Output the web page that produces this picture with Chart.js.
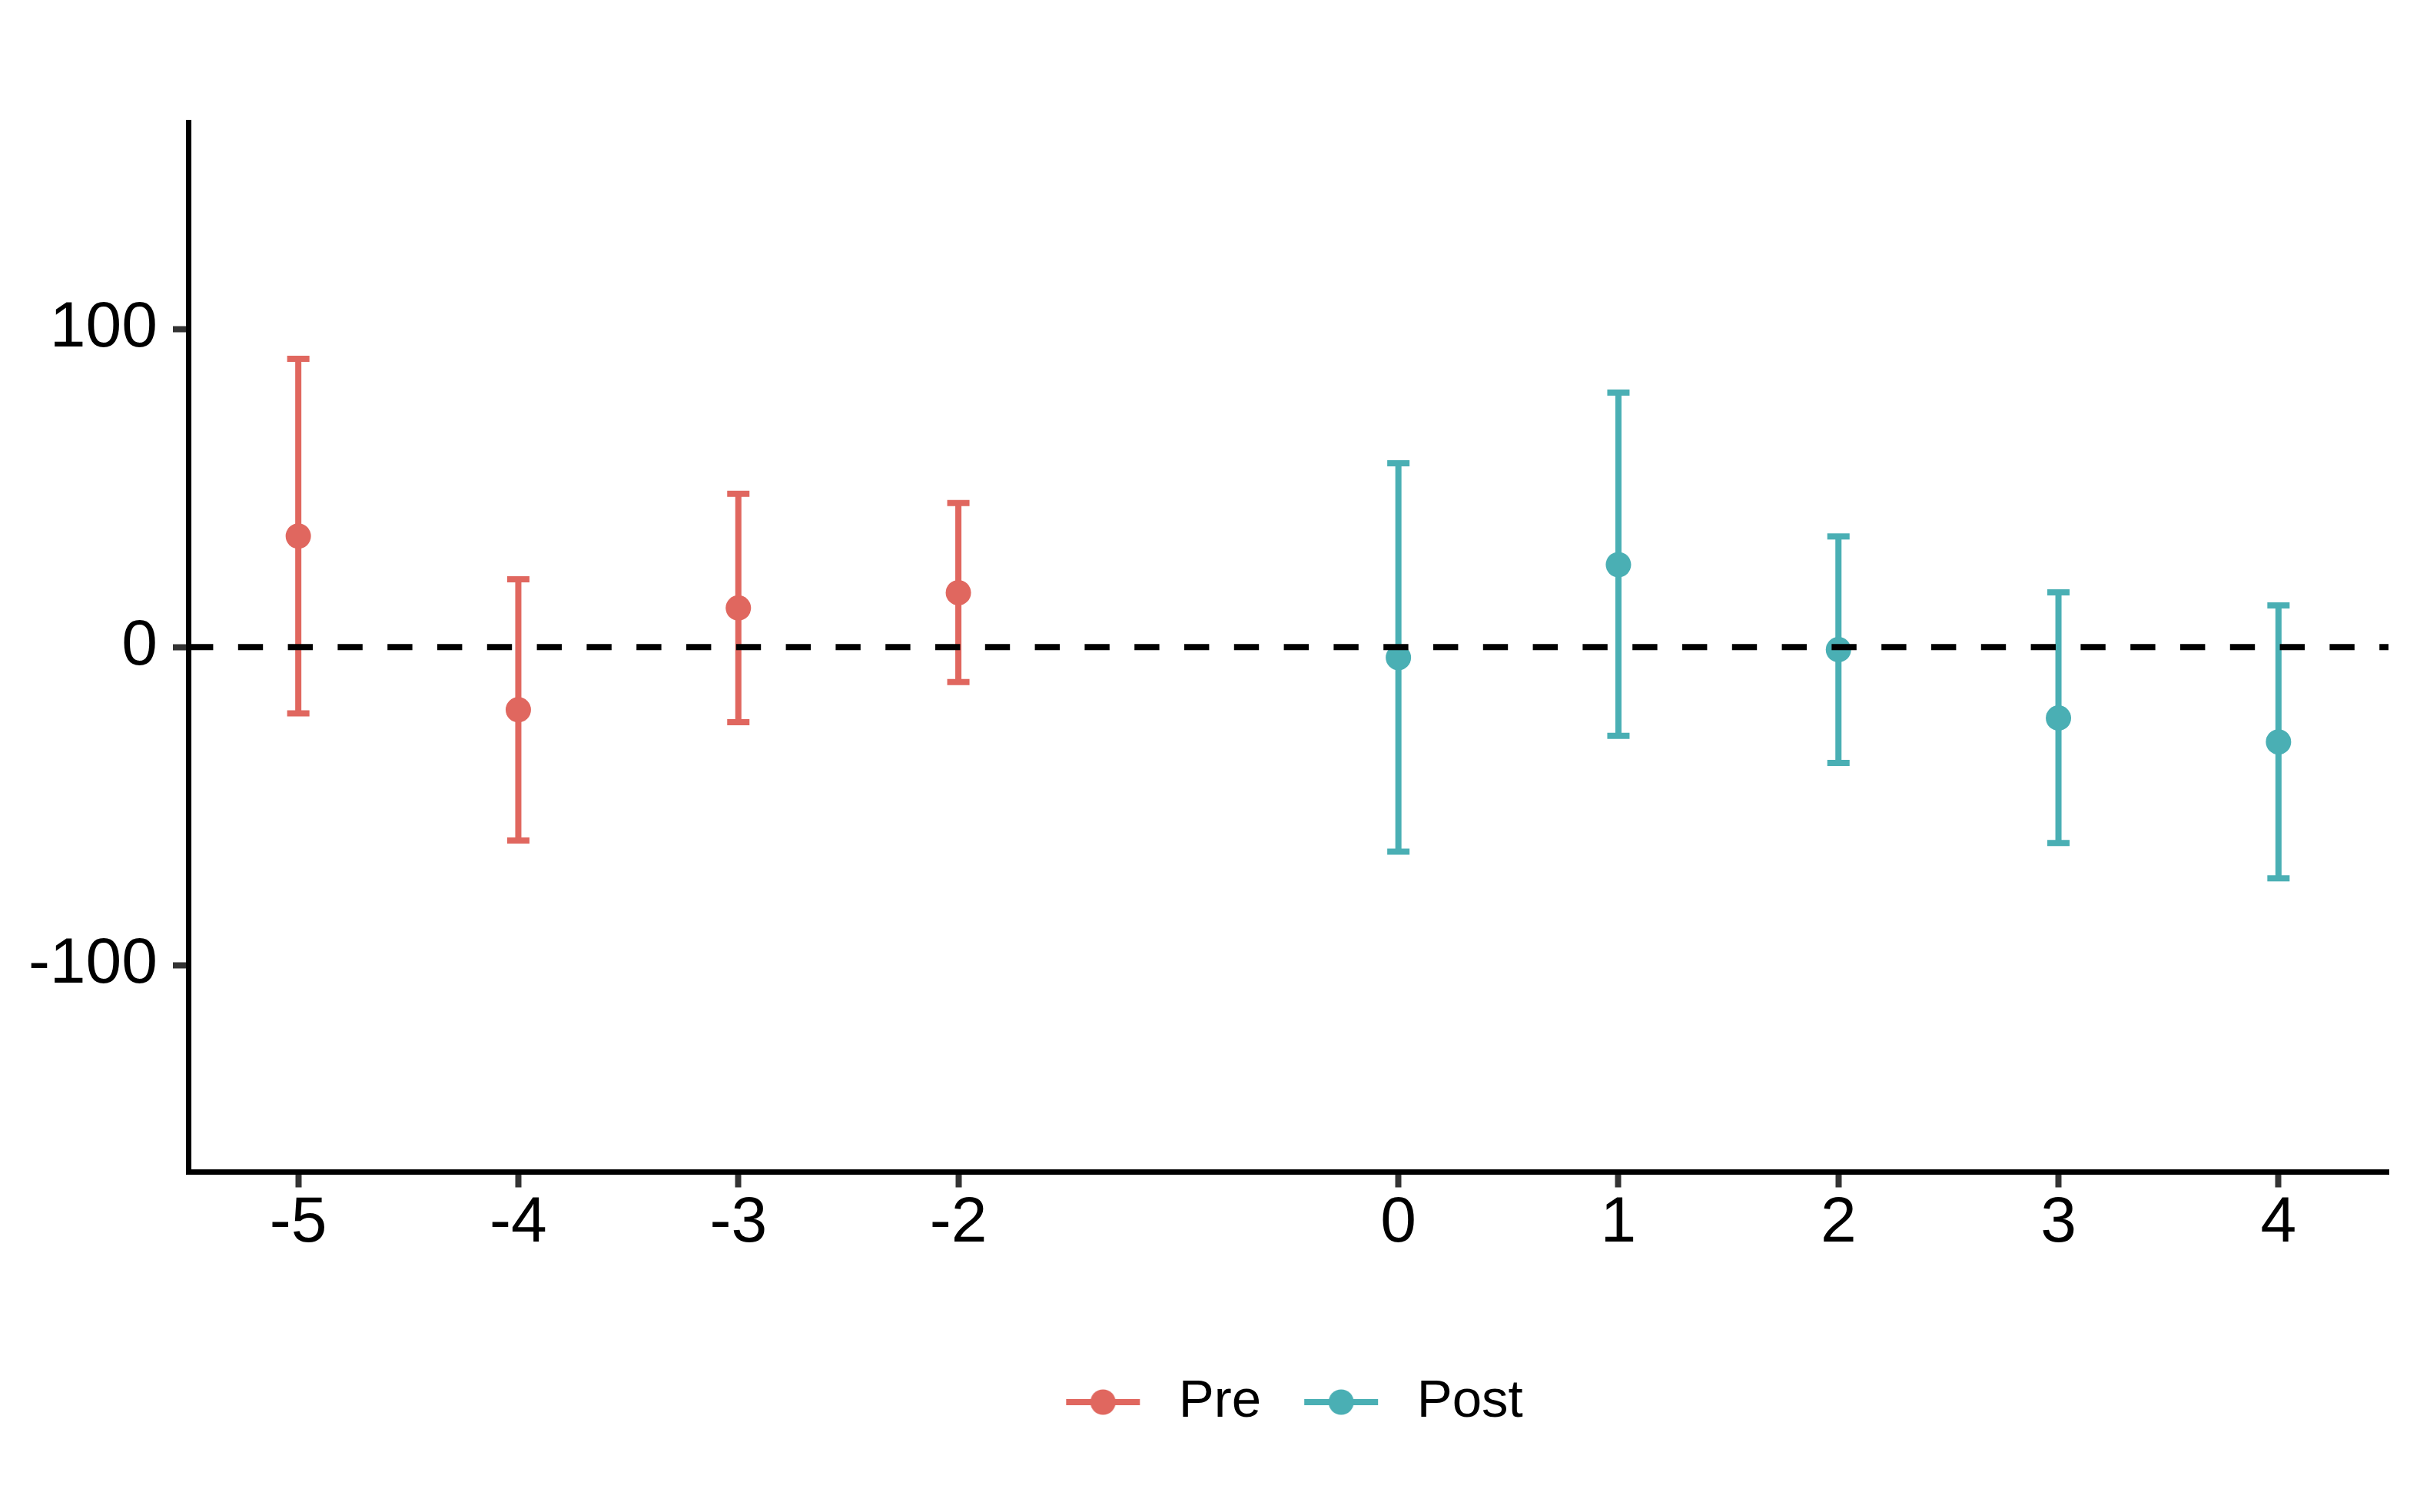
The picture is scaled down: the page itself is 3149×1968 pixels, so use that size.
<!DOCTYPE html>
<html>
<head>
<meta charset="utf-8">
<script src="https://cdn.jsdelivr.net/npm/chart.js@4.4.1/dist/chart.umd.min.js"></script>
<style>
  html, body { margin: 0; padding: 0; background: #fff; }
  #wrap { width: 3149px; height: 1968px; position: relative; }
</style>
</head>
<body>
<div id="wrap"><canvas id="myChart"></canvas></div>
<script>
const preX = [-5, -4, -3, -2];
const preEst = [34.9, -19.7, 12.3, 17.1];
const preLo = [-20.8, -60.8, -23.6, -11.0];
const preHi = [90.6, 21.3, 48.2, 45.3];

const postX = [0, 1, 2, 3, 4];
const postEst = [-3.3, 25.9, -0.8, -22.3, -29.8];
const postLo = [-64.3, -27.9, -36.4, -61.6, -72.7];
const postHi = [57.8, 80.0, 34.8, 17.2, 13.1];

const xTicks = [-5, -4, -3, -2, 0, 1, 2, 3, 4];
const yTicks = [-100, 0, 100];

const preColor = '#E0675F';
const postColor = '#4AAFB4';
const font = '"Liberation Sans", Arial, sans-serif';

// legend key: line with a dot, like ggplot
function legendKey(color) {
    const c = document.createElement('canvas');
    c.width = 128;
    c.height = 34;
    const g = c.getContext('2d');
    g.strokeStyle = color;
    g.lineWidth = 8;
    g.beginPath();
    g.moveTo(16, 17);
    g.lineTo(112, 17);
    g.stroke();
    g.fillStyle = color;
    g.beginPath();
    g.arc(64, 17, 16.5, 0, Math.PI * 2);
    g.fill();
    return c;
}

const errorBars = {
    id: 'errorBars',
    beforeDatasetsDraw(chart) {
        const { ctx, scales: { x, y } } = chart;
        ctx.save();
        ctx.lineWidth = 8;
        ctx.lineCap = 'butt';
        chart.data.datasets.forEach(ds => {
            ctx.strokeStyle = ds.backgroundColor;
            ds.data.forEach(p => {
                const px = x.getPixelForValue(p.x);
                const top = y.getPixelForValue(p.hi);
                const bot = y.getPixelForValue(p.lo);
                ctx.beginPath();
                ctx.moveTo(px, top);
                ctx.lineTo(px, bot);
                ctx.moveTo(px - 14.5, top);
                ctx.lineTo(px + 14.5, top);
                ctx.moveTo(px - 14.5, bot);
                ctx.lineTo(px + 14.5, bot);
                ctx.stroke();
            });
        });
        ctx.restore();
    },
    afterDatasetsDraw(chart) {
        const { ctx, chartArea, scales: { y } } = chart;
        const py = y.getPixelForValue(0);
        ctx.save();
        ctx.strokeStyle = '#000';
        ctx.lineWidth = 8;
        ctx.setLineDash([32.4, 32.4]);
        ctx.beginPath();
        ctx.moveTo(chartArea.left, py);
        ctx.lineTo(chartArea.right, py);
        ctx.stroke();
        ctx.restore();
    }
};

function points(xs, est, lo, hi) {
    return xs.map((v, i) => ({ x: v, y: est[i], lo: lo[i], hi: hi[i] }));
}

const ctx = document.getElementById('myChart').getContext('2d');
const myChart = new Chart(ctx, {
    type: 'scatter',
    data: {
        datasets: [{
            label: 'Pre',
            data: points(preX, preEst, preLo, preHi),
            backgroundColor: preColor,
            borderWidth: 0,
            pointRadius: 16.5,
            pointHoverRadius: 16.5
        }, {
            label: 'Post',
            data: points(postX, postEst, postLo, postHi),
            backgroundColor: postColor,
            borderWidth: 0,
            pointRadius: 16.5,
            pointHoverRadius: 16.5
        }]
    },
    options: {
        responsive: true,
        maintainAspectRatio: false,
        devicePixelRatio: 1,
        animation: false,
        events: [],
        layout: { padding: { top: 159, right: 41, left: 0, bottom: 98.5 } },
        scales: {
            x: {
                type: 'linear',
                min: -5.5,
                max: 4.5,
                afterBuildTicks: s => { s.ticks = xTicks.map(v => ({ value: v })); },
                afterFit: s => { s.height = 225; },
                grid: { drawOnChartArea: false, tickLength: 20, tickWidth: 8, tickColor: '#333' },
                border: { color: '#000', width: 7 },
                ticks: { color: '#000', padding: -3, font: { family: font, size: 84 } }
            },
            y: {
                min: -165,
                max: 165,
                afterBuildTicks: s => { s.ticks = yTicks.map(v => ({ value: v })); },
                afterFit: s => { s.width = 245; },
                grid: { drawOnChartArea: false, tickLength: 20, tickWidth: 8, tickColor: '#333' },
                border: { color: '#000', width: 7 },
                ticks: { color: '#000', padding: 20, font: { family: font, size: 84 } }
            }
        },
        plugins: {
            tooltip: { enabled: false },
            legend: {
                position: 'bottom',
                fullSize: false,
                labels: {
                    usePointStyle: true,
                    pointStyleWidth: 128,
                    padding: 40,
                    color: '#000',
                    font: { family: font, size: 69 },
                    generateLabels: chart => chart.data.datasets.map((ds, i) => ({
                        text: ds.label,
                        pointStyle: legendKey(ds.backgroundColor),
                        fillStyle: ds.backgroundColor,
                        strokeStyle: ds.backgroundColor,
                        lineWidth: 0,
                        fontColor: '#000',
                        datasetIndex: i
                    }))
                }
            }
        }
    },
    plugins: [errorBars]
});
</script>
</body>
</html>
